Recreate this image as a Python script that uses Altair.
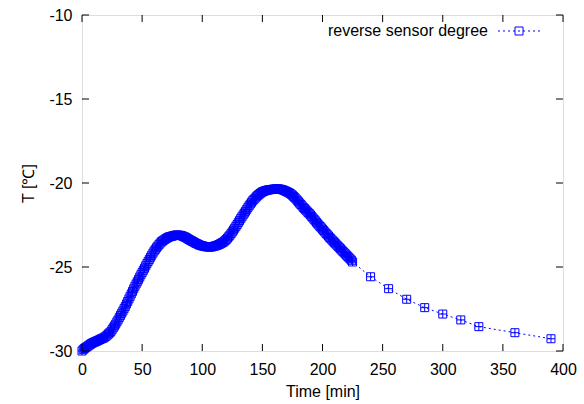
import altair as alt
import pandas as pd

# dense record (every minute, 0..225)
dense_T = [
    -30.00, -29.92, -29.85, -29.80, -29.75, -29.70, -29.65, -29.60, -29.55, -29.51,
    -29.48, -29.45, -29.42, -29.38, -29.35, -29.31, -29.28, -29.25, -29.22, -29.17,
    -29.12, -29.05, -28.98, -28.92, -28.85, -28.73, -28.62, -28.51, -28.40, -28.27,
    -28.15, -28.01, -27.88, -27.75, -27.62, -27.48, -27.35, -27.20, -27.05, -26.90,
    -26.75, -26.60, -26.45, -26.30, -26.15, -26.01, -25.88, -25.74, -25.60, -25.46,
    -25.33, -25.20, -25.07, -24.93, -24.80, -24.67, -24.55, -24.42, -24.30, -24.17,
    -24.05, -23.95, -23.85, -23.76, -23.67, -23.58, -23.50, -23.45, -23.40, -23.35,
    -23.30, -23.26, -23.22, -23.20, -23.18, -23.16, -23.14, -23.12, -23.10, -23.10,
    -23.10, -23.11, -23.12, -23.14, -23.17, -23.20, -23.23, -23.27, -23.32, -23.36,
    -23.40, -23.44, -23.48, -23.52, -23.56, -23.60, -23.63, -23.67, -23.70, -23.72,
    -23.74, -23.76, -23.78, -23.79, -23.80, -23.81, -23.81, -23.81, -23.80, -23.78,
    -23.76, -23.74, -23.72, -23.69, -23.66, -23.62, -23.58, -23.54, -23.50, -23.43,
    -23.36, -23.28, -23.20, -23.11, -23.01, -22.91, -22.80, -22.69, -22.58, -22.47,
    -22.35, -22.24, -22.12, -22.01, -21.90, -21.79, -21.68, -21.57, -21.45, -21.35,
    -21.25, -21.15, -21.05, -20.97, -20.90, -20.82, -20.75, -20.69, -20.63, -20.58,
    -20.53, -20.50, -20.47, -20.45, -20.43, -20.41, -20.40, -20.39, -20.38, -20.37,
    -20.36, -20.35, -20.35, -20.35, -20.36, -20.37, -20.39, -20.41, -20.44, -20.47,
    -20.51, -20.54, -20.57, -20.62, -20.67, -20.73, -20.80, -20.87, -20.95, -21.03,
    -21.12, -21.20, -21.28, -21.36, -21.45, -21.52, -21.60, -21.67, -21.75, -21.82,
    -21.90, -21.99, -22.08, -22.16, -22.25, -22.34, -22.43, -22.51, -22.59, -22.67,
    -22.75, -22.83, -22.92, -23.00, -23.08, -23.16, -23.25, -23.32, -23.40, -23.47,
    -23.55, -23.62, -23.70, -23.77, -23.85, -23.92, -24.00, -24.07, -24.15, -24.22,
    -24.30, -24.37, -24.45, -24.52, -24.60, -24.70,
]
dense_t = list(range(0, len(dense_T)))
# sparse tail
sparse_t = [240, 255, 270, 285, 300, 315, 330, 360, 390]
sparse_T = [-25.58, -26.29, -26.92, -27.42, -27.80, -28.15, -28.55, -28.91, -29.27]

x_ticks = [0, 50, 100, 150, 200, 250, 300, 350, 400]
y_ticks = [-30, -25, -20, -15, -10]

series_name = "reverse sensor degree"
BLUE = "#0000ff"
FONT = "Liberation Sans"
FS = 16
W, H = 481, 336
TICK = 7

df = pd.DataFrame({"t": dense_t + sparse_t, "T": dense_T + sparse_T})

xs = alt.Scale(domain=[0, 400], nice=False)
ys = alt.Scale(domain=[-30, -10], nice=False)

box_plus = "M-1,-1H1V1H-1Z M-1,0H1 M0,-1V1"

xaxis = alt.Axis(values=x_ticks, ticks=False, domain=False, grid=False, labelFlush=False,
                 labelFont=FONT, labelFontSize=FS, labelColor="black", labelPadding=10,
                 title="Time [min]", titleFont=FONT, titleFontSize=FS,
                 titleFontWeight="normal", titleColor="black", titlePadding=6)
yaxis = alt.Axis(values=y_ticks, ticks=False, domain=False, grid=False, labelFlush=False,
                 labelExpr="toString(datum.value)",
                 labelFont=FONT, labelFontSize=FS, labelColor="black", labelPadding=10,
                 title="T [℃]", titleFont=FONT, titleFontSize=FS,
                 titleFontWeight="normal", titleColor="black", titlePadding=12)

line = alt.Chart(df).mark_line(color=BLUE, strokeWidth=1, strokeDash=[2, 3]).encode(
    x=alt.X("t:Q", scale=xs, axis=xaxis),
    y=alt.Y("T:Q", scale=ys, axis=yaxis),
    order="t:Q",
)
pts = alt.Chart(df).mark_point(shape=box_plus, size=64, filled=False, color=BLUE,
                               strokeWidth=1, opacity=1).encode(
    x=alt.X("t:Q", scale=xs),
    y=alt.Y("T:Q", scale=ys),
)

xt = pd.DataFrame({"v": x_ticks})
yt = pd.DataFrame({"v": y_ticks})
tick_style = dict(color="black", strokeWidth=1)
xt_bot = alt.Chart(xt).mark_rule(**tick_style).encode(
    x=alt.X("v:Q", scale=xs), y=alt.value(H), y2=alt.value(H - TICK))
xt_top = alt.Chart(xt).mark_rule(**tick_style).encode(
    x=alt.X("v:Q", scale=xs), y=alt.value(0), y2=alt.value(TICK))
yt_left = alt.Chart(yt).mark_rule(**tick_style).encode(
    y=alt.Y("v:Q", scale=ys), x=alt.value(0), x2=alt.value(TICK))
yt_right = alt.Chart(yt).mark_rule(**tick_style).encode(
    y=alt.Y("v:Q", scale=ys), x=alt.value(W), x2=alt.value(W - TICK))

leg = pd.DataFrame({"label": [series_name]})
leg_text = alt.Chart(leg).mark_text(align="right", baseline="middle", font=FONT,
                                    fontSize=FS, color="black").encode(
    text="label:N", x=alt.value(406), y=alt.value(16))
leg_line = alt.Chart(leg).mark_rule(color=BLUE, strokeWidth=1, strokeDash=[2, 3]).encode(
    x=alt.value(416), x2=alt.value(458), y=alt.value(16))
leg_pt = alt.Chart(leg).mark_point(shape="square", size=64, filled=False, color=BLUE,
                                   strokeWidth=1, opacity=1).encode(
    x=alt.value(437), y=alt.value(16))

chart = alt.layer(line, pts, xt_bot, xt_top, yt_left, yt_right,
                  leg_text, leg_line, leg_pt).properties(
    width=W, height=H,
    autosize="none",
    padding={"left": 82, "top": 15, "right": 21, "bottom": 53},
).configure_view(stroke="black", strokeWidth=1.5).configure(background="white")

chart.save("out.html", embed_options={"renderer": "svg", "actions": False})
